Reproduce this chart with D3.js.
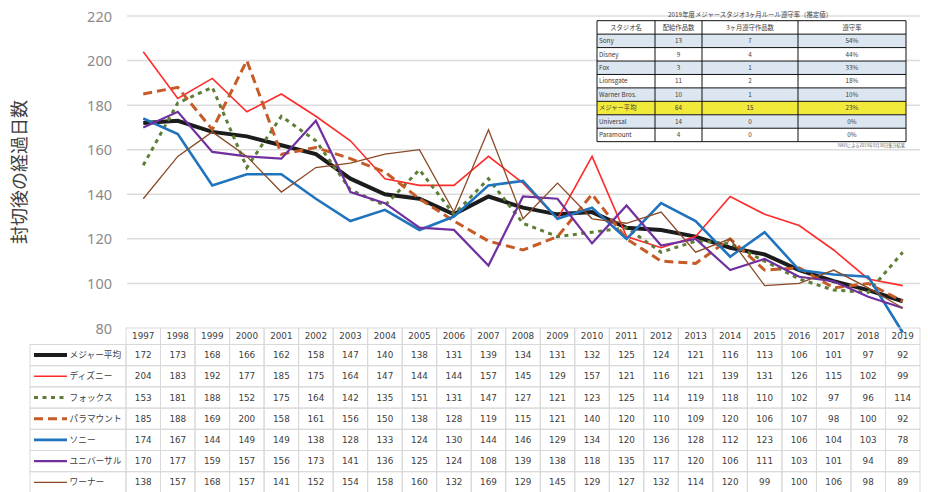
<!DOCTYPE html>
<html><head><meta charset="utf-8">
<script src="https://cdn.jsdelivr.net/npm/d3@7"></script>
<style>body{margin:0;background:#fff}svg{display:block}</style>
</head><body>
<svg id="c" width="928" height="492"></svg>
<script>
const years = ["1997","1998","1999","2000","2001","2002","2003","2004","2005","2006","2007","2008","2009","2010","2011","2012","2013","2014","2015","2016","2017","2018","2019"];
const seriesNames = ["メジャー平均","ディズニー","フォックス","パラマウント","ソニー","ユニバーサル","ワーナー"];
const majorAvg = [172,173,168,166,162,158,147,140,138,131,139,134,131,132,125,124,121,116,113,106,101,97,92];
const disney   = [204,183,192,177,185,175,164,147,144,144,157,145,129,157,121,116,121,139,131,126,115,102,99];
const fox      = [153,181,188,152,175,164,142,135,151,131,147,127,121,123,125,114,119,118,110,102,97,96,114];
const paramount= [185,188,169,200,158,161,156,150,138,128,119,115,121,140,120,110,109,120,106,107,98,100,92];
const sony     = [174,167,144,149,149,138,128,133,124,130,144,146,129,134,120,136,128,112,123,106,104,103,78];
const universal= [170,177,159,157,156,173,141,136,125,124,108,139,138,118,135,117,120,106,111,103,101,94,89];
const warner   = [138,157,168,157,141,152,154,158,160,132,169,129,145,129,127,132,114,120,99,100,106,98,89];
const yTicks = [80,100,120,140,160,180,200,220];
const yTitle = "封切後の経過日数";

const insetTitle = "2019年度メジャースタジオ3ヶ月ルール遵守率（推定値）";
const insetHeader = ["スタジオ名","配給作品数","3ヶ月遵守作品数","遵守率"];
const insetStudios = ["Sony","Disney","Fox","Lionsgate","Warner Bros.","メジャー平均","Universal","Paramount"];
const insetReleased = [13,9,3,11,10,64,14,4];
const insetCompliant = [7,4,1,2,1,15,0,0];
const insetRate = ["54%","44%","33%","18%","10%","23%","0%","0%"];
const insetNote = "NAVIによる2019年9月30日集計結果";

const seriesData = [majorAvg,disney,fox,paramount,sony,universal,warner];
const styles = [
  {c:"#1c1c1c", w:4, d:null},
  {c:"#ff2b2b", w:1.6, d:null},
  {c:"#5e7e36", w:3, d:"4,4.5"},
  {c:"#c65b27", w:3, d:"9,5"},
  {c:"#1f74bd", w:2.6, d:null},
  {c:"#7030a0", w:2.2, d:null},
  {c:"#8a4a27", w:1.3, d:null}
];

const svg = d3.select("#c");
const x = d3.scaleBand().domain(years).range([126, 920]);
const cx = d => x(d) + x.bandwidth()/2;
const y = d3.scaleLinear().domain([80,220]).range([328,16]);

// gridlines
svg.append("g").selectAll("line").data(yTicks.filter(t=>t>80)).join("line")
  .attr("x1",127).attr("x2",920).attr("y1",d=>y(d)).attr("y2",d=>y(d))
  .attr("stroke","#dcdcdc").attr("stroke-width",1.5);

// y axis labels
const yAxis = d3.axisLeft(y).tickValues(yTicks).tickSize(0).tickPadding(0);
const ga = svg.append("g").attr("transform","translate(112,0)").call(yAxis);
ga.select(".domain").remove();
ga.selectAll("text").attr("font-family","Noto Sans").attr("font-size",14.5).attr("fill","#8a8a8a").attr("dy","0.35em");

svg.append("text").attr("transform","translate(26,172) rotate(-90)")
  .attr("text-anchor","middle").attr("font-family","Noto Sans CJK JP").attr("font-size",18)
  .attr("fill","#404040").text(yTitle);

// lines
const line = d3.line().x((d,i)=>cx(years[i])).y(d=>y(d));
seriesData.forEach((s,k)=>{
  const st = styles[k];
  svg.append("path").datum(s).attr("d",line).attr("fill","none")
    .attr("stroke",st.c).attr("stroke-width",st.w).attr("stroke-linejoin","miter")
    .attr("stroke-dasharray",st.d);
});

// data table
const hTop = 328, hH = 16.5, rH = 21.2, legL = 30;
const tg = svg.append("g");
const bw = x.bandwidth();
years.forEach(yr=>{
  tg.append("rect").attr("x",x(yr)).attr("y",hTop).attr("width",bw).attr("height",hH)
    .attr("fill","none").attr("stroke","#d9d9d9").attr("stroke-width",1);
  tg.append("text").attr("x",cx(yr)).attr("y",hTop+hH/2).attr("dy","0.35em")
    .attr("text-anchor","middle").attr("font-family","DejaVu Sans").attr("font-size",8.8)
    .attr("fill","#404040").text(yr);
});
seriesData.forEach((s,k)=>{
  const top = hTop+hH + k*rH;
  tg.append("rect").attr("x",legL).attr("y",top).attr("width",x(years[0])-legL).attr("height",rH)
    .attr("fill","none").attr("stroke","#d9d9d9").attr("stroke-width",1);
  const st = styles[k];
  tg.append("line").attr("x1",34).attr("x2",67).attr("y1",top+rH/2).attr("y2",top+rH/2)
    .attr("stroke",st.c).attr("stroke-width",st.w).attr("stroke-dasharray",st.d);
  tg.append("text").attr("x",69.5).attr("y",top+rH/2).attr("dy","0.36em")
    .attr("font-family","Noto Sans CJK JP").attr("font-size",8.7).attr("fill","#404040").text(seriesNames[k]);
  s.forEach((v,i)=>{
    tg.append("rect").attr("x",x(years[i])).attr("y",top).attr("width",bw).attr("height",rH)
      .attr("fill","none").attr("stroke","#d9d9d9").attr("stroke-width",1);
    tg.append("text").attr("x",cx(years[i])).attr("y",top+rH/2).attr("dy","0.35em")
      .attr("text-anchor","middle").attr("font-family","DejaVu Sans").attr("font-size",8.8)
      .attr("fill","#404040").text(v);
  });
});

// inset table
const ig = svg.append("g");
const colX = [597,655,702,798,906];
const iTop = 20.7, iRH = 13.44;
ig.append("text").attr("x",750).attr("y",15).attr("dy","0.35em").attr("text-anchor","middle")
  .attr("font-family","Noto Sans CJK JP").attr("font-size",6.4).attr("fill","#404040").text(insetTitle);
const rowFill = ["#dce6f1","#ffffff","#dce6f1","#ffffff","#dce6f1","#f2ea3a","#dce6f1","#ffffff"];
const rows = [insetHeader].concat(insetStudios.map((s,i)=>[s,insetReleased[i],insetCompliant[i],insetRate[i]]));
rows.forEach((r,ri)=>{
  const top = iTop + ri*iRH;
  const fill = ri===0 ? "#ffffff" : rowFill[ri-1];
  ig.append("rect").attr("x",colX[0]).attr("y",top).attr("width",colX[4]-colX[0]).attr("height",iRH).attr("fill",fill);
  r.forEach((v,ci)=>{
    const left = ci===0 && ri>0;
    ig.append("text").attr("x", left ? colX[0]+2 : (colX[ci]+colX[ci+1])/2)
      .attr("y",top+iRH/2).attr("dy","0.35em").attr("text-anchor", left ? "start":"middle")
      .attr("font-family","Noto Sans CJK JP").attr("font-size",6.3).attr("fill","#3a3a3a").text(v);
  });
});
for(let ri=0; ri<=rows.length; ri++){
  ig.append("line").attr("x1",colX[0]).attr("x2",colX[4]).attr("y1",iTop+ri*iRH).attr("y2",iTop+ri*iRH)
    .attr("stroke","#111").attr("stroke-width",1);
}
colX.forEach(cxp=>{
  ig.append("line").attr("x1",cxp).attr("x2",cxp).attr("y1",iTop).attr("y2",iTop+rows.length*iRH)
    .attr("stroke","#111").attr("stroke-width",1);
});
ig.append("text").attr("x",905).attr("y",145.5).attr("dy","0.35em").attr("text-anchor","end")
  .attr("font-family","Noto Sans CJK JP").attr("font-size",4.2).attr("fill","#666").text(insetNote);
</script>
</body></html>
